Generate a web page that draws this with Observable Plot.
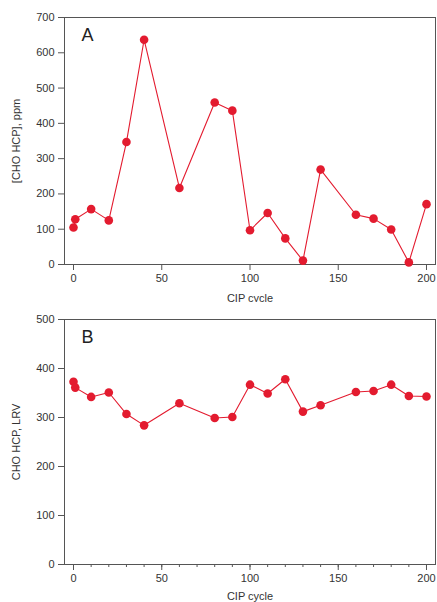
<!DOCTYPE html>
<html><head><meta charset="utf-8">
<script src="https://cdn.jsdelivr.net/npm/d3@7"></script>
<script src="https://cdn.jsdelivr.net/npm/@observablehq/plot@0.6"></script>
<style>html,body{margin:0;padding:0;background:#fff} svg{display:block}</style>
</head><body><div id="chart"></div>
<script>
const cycles = [0, 1, 10, 20, 30, 40, 60, 80, 90, 100, 110, 120, 130, 140, 160, 170, 180, 190, 200];
const hcpPpm = [105, 128, 157, 125, 347, 637, 217, 459, 436, 97, 146, 74, 11, 269, 141, 130, 99, 6, 171];
const hcpLrv = [373, 361, 342, 351, 307, 284, 329, 299, 301, 367, 349, 378, 312, 325, 352, 354, 367, 344, 343];
const xTicks = [0, 50, 100, 150, 200];
const xMinorTicks = d3.range(0, 201, 10);
const yTicksA = [0, 100, 200, 300, 400, 500, 600, 700];
const yTicksB = [0, 100, 200, 300, 400, 500];

const red = "#e31b2f";
const font = "'Liberation Sans', Arial, Helvetica, sans-serif";

function panel(values, yDomain, yTicks, yLabel, letter, minor) {
  const data = cycles.map((c, i) => ({c, v: values[i]}));
  const marks = [
    Plot.frame({stroke: "#555", strokeWidth: 1}),
  ];
  if (minor) marks.push(Plot.axisX({ticks: xMinorTicks, tickSize: 3, text: null, label: null, stroke: "#555"}));
  marks.push(
    Plot.axisX({ticks: xTicks, tickSize: 6, tickPadding: 4, stroke: "#555", label: "CIP cycle", labelAnchor: "center", labelArrow: "none", labelOffset: minor ? 35 : 37, fontSize: 11}),
    Plot.axisY({ticks: yTicks, tickSize: 6, tickPadding: 4, stroke: "#555", label: yLabel, labelAnchor: "center", labelArrow: "none", labelOffset: 52, fontSize: 11}),
    Plot.line(data, {x: "c", y: "v", stroke: red, strokeWidth: 1.1}),
    Plot.dot(data, {x: "c", y: "v", r: 4.3, fill: red, stroke: "none"}),
    Plot.text([letter], {frameAnchor: "top-left", dx: 17, dy: 11, fontSize: 18, textAnchor: "start", lineAnchor: "top", fill: "#222"})
  );
  return Plot.plot({
    width: 437, height: minor ? 300 : 302,
    marginLeft: 64, marginRight: 2, marginTop: 17, marginBottom: 38,
    style: {fontFamily: font, fontSize: "11px", color: "#333", background: "white"},
    x: {domain: [-5.1, 205.1]},
    y: {domain: yDomain},
    marks
  });
}

const root = document.getElementById("chart");
root.appendChild(panel(hcpPpm, [0, 700], yTicksA, "[CHO HCP], ppm", "A", false));
root.appendChild(panel(hcpLrv, [0, 500], yTicksB, "CHO HCP, LRV", "B", true));
</script>
</body></html>
